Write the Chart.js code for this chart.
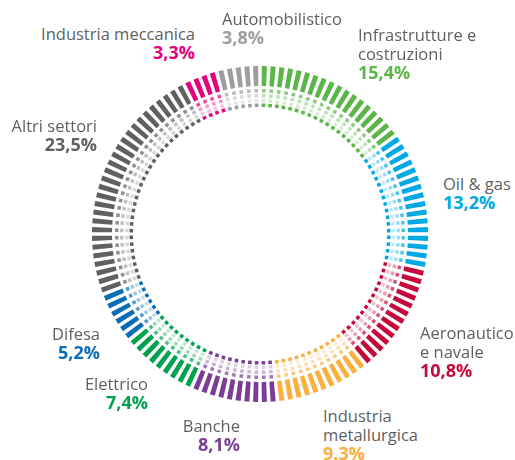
<!DOCTYPE html>
<html><head><meta charset="utf-8">
<script src="https://cdn.jsdelivr.net/npm/chart.js@4.4.1/dist/chart.umd.min.js"></script>
<style>
html,body{margin:0;padding:0;background:#fff;}
#wrap{position:relative;width:515px;height:460px;overflow:hidden;font-family:'Open Sans',sans-serif;}
#ring{position:absolute;left:92px;top:66px;width:336px;height:336px;}
.lbl{position:absolute;line-height:19px;white-space:nowrap;}
.lbl .n{font-size:16.5px;color:#5f5f5f;}
.lbl .p{font-size:18px;font-weight:700;}
</style></head><body>
<div id="wrap"><div id="ring"><canvas id="c" width="336" height="336"></canvas></div></div>
<script>
// sectors, clockwise from 12 o'clock
const categories = ['Infrastrutture e\ncostruzioni', 'Oil & gas', 'Aeronautico\ne navale', 'Industria\nmetallurgica',
  'Banche', 'Elettrico', 'Difesa', 'Altri settori', 'Industria meccanica', 'Automobilistico'];
const shares = [15.4, 13.2, 10.8, 9.3, 8.1, 7.4, 5.2, 23.5, 3.3, 3.8];
const shareLabels = ['15,4%', '13,2%', '10,8%', '9.3%', '8,1%', '7,4%', '5,2%', '23,5%', '3,3%', '3,8%'];
const colors = ['#5bb548', '#00a9e4', '#c5093b', '#fbaf3f', '#7a3d96', '#00a24f', '#0a6db7', '#606060', '#e6007e', '#9c9ea1'];

// label placement (style only)
const labelPos = [
  {left:358, top:24.5}, {left:443, top:173.5}, {left:420, top:322.5}, {left:323, top:405.5},
  {right:240, top:415.5}, {right:148, top:373.5}, {right:100, top:323.5}, {right:97, top:115.5},
  {right:195, top:23.5}, {left:222, top:8.5},
];

const TICKS = 120;
const OUTER = 168;
// rings outer -> inner: thickness px, tick width px, alpha (null = spacer)
const rings = [
  {w:20, tick:4.8, a:1},
  {w:3},
  {w:3.5, tick:3.6, a:0.7},
  {w:1.5},
  {w:3.5, tick:3.6, a:0.4},
  {w:1.5},
  {w:3.5, tick:3.6, a:0.25},
  {w:1},
  {w:3.5, tick:3.6, a:1},
];

const rgba = (hex, a) => {
  const n = parseInt(hex.slice(1), 16);
  return `rgba(${n >> 16},${(n >> 8) & 255},${n & 255},${a})`;
};

// which sector each tick belongs to
const cum = [];
shares.reduce((s, v) => { cum.push(s); return s + v; }, 0);
const total = shares.reduce((a, b) => a + b, 0);
const tickCat = [];
for (let i = 0; i < TICKS; i++) {
  const p = (i + 0.5) / TICKS * total;
  let k = 0;
  for (let j = 0; j < cum.length; j++) if (p >= cum[j]) k = j;
  tickCat.push(k);
}

let r = OUTER;
const datasets = rings.map(rg => {
  const mid = r - rg.w / 2;
  r -= rg.w;
  if (!rg.tick) return { data:[1], backgroundColor:['rgba(0,0,0,0)'], weight: rg.w };
  const frac = Math.min(rg.tick / (2 * Math.PI * mid / TICKS), 1);
  const data = [], bg = [];
  tickCat.forEach(k => {
    data.push((1 - frac) / 2, frac, (1 - frac) / 2);
    bg.push('rgba(0,0,0,0)', rgba(colors[k], rg.a), 'rgba(0,0,0,0)');
  });
  return { data, backgroundColor: bg, weight: rg.w };
});

new Chart(document.getElementById('c'), {
  type: 'doughnut',
  data: { labels: [], datasets },
  options: {
    responsive:false, animation:false, events:[],
    cutout: r,
    borderWidth:0, hoverBorderWidth:0, offset:0, hoverOffset:0, spacing:0,
    layout:{ padding:0 },
    plugins:{ legend:{ display:false }, tooltip:{ enabled:false } }
  }
});

// labels
const wrap = document.getElementById('wrap');
categories.forEach((name, i) => {
  const d = document.createElement('div');
  d.className = 'lbl';
  const pos = labelPos[i];
  d.style.top = pos.top + 'px';
  if (pos.right != null) { d.style.right = (515 - pos.right) + 'px'; d.style.textAlign = 'right'; }
  else d.style.left = pos.left + 'px';
  name.split('\n').forEach(line => {
    const s = document.createElement('div'); s.className = 'n'; s.textContent = line; d.appendChild(s);
  });
  const p = document.createElement('div'); p.className = 'p'; p.textContent = shareLabels[i];
  p.style.color = colors[i]; d.appendChild(p);
  wrap.appendChild(d);
});
</script>
</body></html>
